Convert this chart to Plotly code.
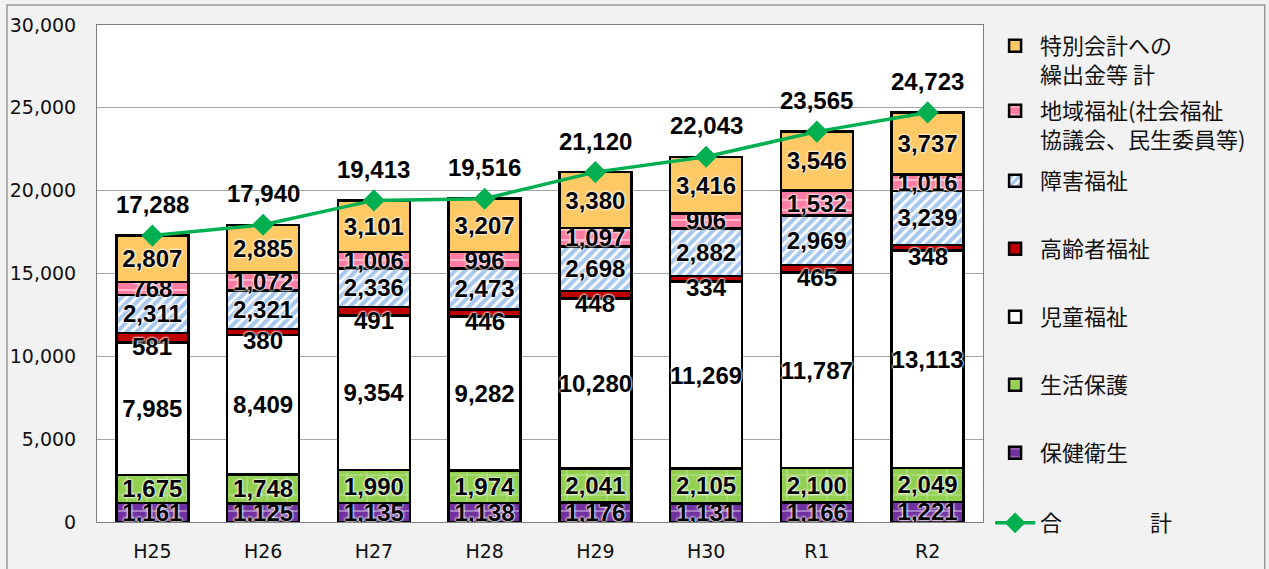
"""Stacked bar chart of welfare expenditure by category, with total line."""

import plotly.graph_objects as go

years = ["H25", "H26", "H27", "H28", "H29", "H30", "R1", "R2"]

health = [1161, 1125, 1135, 1138, 1176, 1131, 1166, 1221]
livelihood = [1675, 1748, 1990, 1974, 2041, 2105, 2100, 2049]
child = [7985, 8409, 9354, 9282, 10280, 11269, 11787, 13113]
elderly = [581, 380, 491, 446, 448, 334, 465, 348]
disability = [2311, 2321, 2336, 2473, 2698, 2882, 2969, 3239]
community = [768, 1072, 1006, 996, 1097, 906, 1532, 1016]
special = [2807, 2885, 3101, 3207, 3380, 3416, 3546, 3737]
totals = [17288, 17940, 19413, 19516, 21120, 22043, 23565, 24723]

y_ticks = [0, 5000, 10000, 15000, 20000, 25000, 30000]

LABEL_FONT = dict(family="Liberation Sans, Arial", size=24, color="black", weight="bold",
                  shadow="0 0 2px white, 0 0 2px white, 0 0 3px white")
LEGEND_FONT = dict(family="Noto Sans CJK JP", size=22, color="#111111")
TICK_FONT = dict(family="DejaVu Sans", size=19, color="#111111")

# (name, values, fill, pattern, legend id)
series = [
    ("保健衛生", health, "#7030A0", dict(shape="-", fgcolor="white", bgcolor="#7030A0", size=12, solidity=0.12), "legend7"),
    ("生活保護", livelihood, "#92D050", dict(shape="+", fgcolor="white", bgcolor="#92D050", size=20, solidity=0.08), "legend6"),
    ("児童福祉", child, "white", None, "legend5"),
    ("高齢者福祉", elderly, "#C00000", None, "legend4"),
    ("障害福祉", disability, "#4F8FDC", dict(shape="/", fgcolor="#4F8FDC", bgcolor="white", size=7, solidity=0.6), "legend3"),
    ("地域福祉(社会福祉<br>協議会、民生委員等)", community, "#FF7BA2",
     dict(shape="-", fgcolor="white", bgcolor="#FF7BA2", size=10, solidity=0.18), "legend2"),
    ("特別会計への<br>繰出金等 計", special, "#FFC965", None, "legend"),
]

fig = go.Figure()
for name, vals, color, pattern, leg in series:
    is_red = color == "#C00000"
    marker = dict(color=color, line=dict(color="black", width=2.5))
    if pattern:
        marker["pattern"] = pattern
    fig.add_trace(
        go.Bar(
            x=years,
            y=vals,
            name=name,
            legend=leg,
            marker=marker,
            text=None if is_red else [f"{v:,}" for v in vals],
            textposition="inside",
            insidetextanchor="middle",
            textangle=0,
            constraintext="none",
            textfont=LABEL_FONT,
            hovertemplate=f"{name}: %{{y:,}}<extra></extra>",
        )
    )

fig.add_trace(
    go.Scatter(
        x=years,
        y=totals,
        name="合　　　　計",
        legend="legend8",
        mode="lines+markers",
        line=dict(color="#00B050", width=3.5),
        marker=dict(symbol="diamond", size=17, color="#00B050"),
        hovertemplate="合計: %{y:,}<extra></extra>",
    )
)

# elderly labels sit just under their thin segment
base = [h + l + c for h, l, c in zip(health, livelihood, child)]
for x, b, v in zip(years, base, elderly):
    fig.add_annotation(x=x, y=b + v / 2, text=f"{v:,}", showarrow=False, yshift=-9, font=LABEL_FONT)

for x, t in zip(years, totals):
    fig.add_annotation(x=x, y=t, text=f"{t:,}", showarrow=False, yshift=31,
                       font=dict(family="Liberation Sans, Arial", size=24, color="black", weight="bold"))

# outer frame of the chart area
fig.add_shape(type="rect", xref="paper", yref="paper", x0=-0.1016, x1=1.318, y0=-0.2, y1=1.0402,
              line=dict(color="#999999", width=1.5), layer="above")

legend_rows = [45, 110, 180, 248, 316, 384, 452, 522]
legend_names = ["legend"] + [f"legend{i}" for i in range(2, 9)]
legend_layout = {}
for key, row in zip(legend_names, legend_rows):
    legend_layout[key] = dict(
        x=1.008, xanchor="left", y=(522 - row + 20) / 497, yanchor="top",
        bgcolor="rgba(0,0,0,0)", font=LEGEND_FONT, valign="top", itemwidth=40,
    )

fig.update_layout(
    width=1269,
    height=569,
    barmode="stack",
    bargap=0.35,
    paper_bgcolor="#F2F2F2",
    plot_bgcolor="white",
    margin=dict(l=97, r=286, t=25, b=47, autoexpand=False),
    uniformtext=dict(mode="show", minsize=24),
    showlegend=True,
    **legend_layout,
)
fig.update_yaxes(
    range=[0, 30000],
    tickvals=y_ticks,
    tickformat=",",
    showgrid=True,
    gridcolor="#A6A6A6",
    gridwidth=1,
    zeroline=False,
    showline=True,
    linecolor="#7F7F7F",
    mirror=True,
    ticks="",
    ticklabelstandoff=16,
    automargin=False,
    tickfont=TICK_FONT,
)
fig.update_xaxes(
    showline=True,
    linecolor="#7F7F7F",
    mirror=True,
    ticks="",
    ticklabelstandoff=12,
    automargin=False,
    tickfont=TICK_FONT,
)

fig.write_html("out.html", config={"displayModeBar": False},
               post_script="document.body.style.margin='0';")
